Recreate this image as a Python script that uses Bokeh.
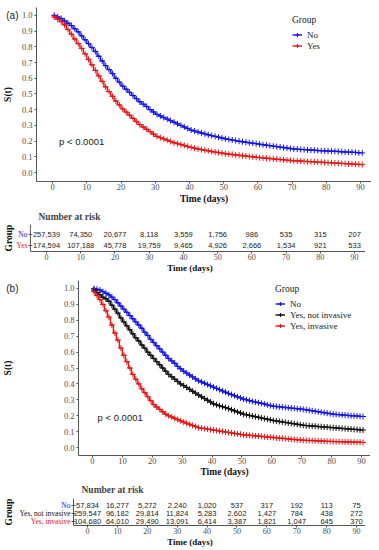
from bokeh.plotting import figure
from bokeh.layouts import column
from bokeh.models import (Legend, LegendItem, Label, FixedTicker, Range1d,
                          NumeralTickFormatter, LinearAxis, Span)
from bokeh.core.properties import value
from bokeh.embed import file_html
from bokeh.resources import INLINE

days = list(range(91))

a_no = [1.00, 0.99, 0.98, 0.965, 0.95, 0.935, 0.915, 0.895, 0.87, 0.845,
        0.82, 0.795, 0.77, 0.74, 0.71, 0.68, 0.655, 0.63, 0.60, 0.575,
        0.55, 0.53, 0.51, 0.49, 0.47, 0.45, 0.435, 0.42, 0.40, 0.385,
        0.37, 0.36, 0.35, 0.34, 0.33, 0.32, 0.31, 0.30, 0.29, 0.28,
        0.27, 0.264, 0.258, 0.252, 0.246, 0.24, 0.235, 0.23, 0.225, 0.22,
        0.215, 0.211, 0.207, 0.203, 0.199, 0.196, 0.193, 0.19, 0.187, 0.184,
        0.18, 0.177, 0.174, 0.171, 0.168, 0.165, 0.162, 0.159, 0.156, 0.153,
        0.15, 0.149, 0.147, 0.146, 0.144, 0.143, 0.142, 0.140, 0.139, 0.138,
        0.137, 0.136, 0.135, 0.134, 0.132, 0.131, 0.130, 0.129, 0.128, 0.126,
        0.125]
a_yes = [0.99, 0.975, 0.96, 0.94, 0.91, 0.88, 0.85, 0.82, 0.79, 0.755,
         0.72, 0.685, 0.65, 0.615, 0.58, 0.545, 0.515, 0.485, 0.455, 0.43,
         0.405, 0.385, 0.365, 0.345, 0.325, 0.305, 0.29, 0.275, 0.26, 0.245,
         0.23, 0.222, 0.214, 0.206, 0.198, 0.19, 0.184, 0.178, 0.172, 0.166,
         0.16, 0.155, 0.15, 0.146, 0.142, 0.138, 0.134, 0.13, 0.127, 0.124,
         0.12, 0.117, 0.115, 0.112, 0.11, 0.107, 0.105, 0.102, 0.1, 0.097,
         0.095, 0.093, 0.091, 0.089, 0.087, 0.085, 0.083, 0.081, 0.079, 0.077,
         0.075, 0.074, 0.073, 0.071, 0.07, 0.069, 0.068, 0.066, 0.065, 0.064,
         0.063, 0.062, 0.060, 0.059, 0.058, 0.057, 0.055, 0.054, 0.053, 0.052,
         0.05]
b_no = [1.0, 0.995, 0.99, 0.98, 0.97, 0.96, 0.945, 0.93, 0.91, 0.89,
        0.87, 0.85, 0.83, 0.81, 0.79, 0.77, 0.75, 0.725, 0.705, 0.68,
        0.66, 0.64, 0.62, 0.60, 0.58, 0.56, 0.545, 0.53, 0.51, 0.495,
        0.48, 0.468, 0.456, 0.444, 0.432, 0.42, 0.412, 0.404, 0.396, 0.388,
        0.38, 0.372, 0.364, 0.356, 0.348, 0.34, 0.333, 0.326, 0.319, 0.312,
        0.305, 0.300, 0.295, 0.290, 0.286, 0.282, 0.278, 0.274, 0.268, 0.264,
        0.26, 0.258, 0.256, 0.254, 0.252, 0.25, 0.248, 0.246, 0.244, 0.242,
        0.24, 0.237, 0.234, 0.231, 0.228, 0.225, 0.222, 0.219, 0.216, 0.213,
        0.21, 0.208, 0.207, 0.205, 0.204, 0.202, 0.200, 0.199, 0.198, 0.196,
        0.195]
b_not_inv = [0.99, 0.975, 0.96, 0.945, 0.935, 0.92, 0.895, 0.87, 0.845, 0.815,
             0.79, 0.765, 0.74, 0.715, 0.69, 0.67, 0.645, 0.625, 0.60, 0.58,
             0.56, 0.54, 0.52, 0.50, 0.48, 0.46, 0.445, 0.43, 0.415, 0.40,
             0.39, 0.378, 0.366, 0.354, 0.342, 0.33, 0.319, 0.308, 0.297, 0.286,
             0.275, 0.269, 0.263, 0.257, 0.251, 0.245, 0.238, 0.231, 0.224, 0.217,
             0.21, 0.206, 0.202, 0.198, 0.194, 0.19, 0.186, 0.182, 0.178, 0.174,
             0.17, 0.167, 0.164, 0.161, 0.158, 0.155, 0.152, 0.149, 0.146, 0.143,
             0.14, 0.138, 0.137, 0.135, 0.134, 0.132, 0.131, 0.129, 0.128, 0.126,
             0.125, 0.123, 0.122, 0.12, 0.119, 0.117, 0.116, 0.114, 0.113, 0.111,
             0.11]
b_inv = [0.98, 0.955, 0.93, 0.9, 0.86, 0.82, 0.77, 0.72, 0.675, 0.625,
         0.58, 0.54, 0.50, 0.46, 0.43, 0.40, 0.37, 0.345, 0.32, 0.295,
         0.27, 0.255, 0.24, 0.225, 0.21, 0.20, 0.192, 0.184, 0.176, 0.168,
         0.16, 0.153, 0.146, 0.139, 0.132, 0.125, 0.122, 0.119, 0.116, 0.113,
         0.11, 0.107, 0.104, 0.101, 0.098, 0.095, 0.092, 0.089, 0.086, 0.083,
         0.08, 0.078, 0.077, 0.075, 0.073, 0.072, 0.07, 0.068, 0.066, 0.065,
         0.063, 0.061, 0.059, 0.058, 0.056, 0.054, 0.052, 0.051, 0.049, 0.048,
         0.046, 0.045, 0.044, 0.044, 0.043, 0.042, 0.041, 0.04, 0.039, 0.039,
         0.038, 0.037, 0.037, 0.036, 0.035, 0.035, 0.034, 0.034, 0.033, 0.033,
         0.032]

x_ticks = [0, 10, 20, 30, 40, 50, 60, 70, 80, 90]
y_ticks = [0.0, 0.1, 0.2, 0.3, 0.4, 0.5, 0.6, 0.7, 0.8, 0.9, 1.0]

risk_times = [0, 10, 20, 30, 40, 50, 60, 70, 80, 90]
risk_a_no = [257539, 74350, 20677, 8118, 3559, 1756, 986, 535, 315, 207]
risk_a_yes = [174594, 107188, 45778, 19759, 9465, 4926, 2666, 1534, 921, 533]
risk_b_no = [57834, 16277, 5272, 2240, 1020, 537, 317, 192, 113, 75]
risk_b_not_inv = [259547, 96182, 29814, 11824, 5283, 2602, 1427, 784, 438, 272]
risk_b_inv = [104680, 64010, 29490, 13091, 6414, 3387, 1821, 1047, 645, 370]

groups_a = ["No", "Yes"]
groups_b = ["No", "Yes, not invasive", "Yes, invasive"]
BLUE = "#1515e6"
RED = "#e81515"
BLACK = "#111111"
AXIS = "#555555"
SERIF = "Liberation Serif"
SANS = "Liberation Sans"


def style_axis(ax):
    ax.axis_line_color = AXIS
    ax.major_tick_line_color = AXIS
    ax.major_tick_out = 2
    ax.major_tick_in = 0
    ax.minor_tick_line_color = None
    ax.major_label_text_color = "#4d4d4d"
    ax.major_label_text_font = SERIF
    ax.major_label_text_font_size = "8.5px"
    ax.axis_label_text_font = SERIF
    ax.axis_label_text_font_style = "bold"
    ax.axis_label_text_font_size = "9.5px"
    ax.axis_label_text_color = "#111111"


def style_common(p, xbounds, xlab_standoff):
    p.grid.visible = False
    p.outline_line_color = None
    p.frame_align = False
    style_axis(p.xaxis[0])
    style_axis(p.yaxis[0])
    p.xaxis.ticker = FixedTicker(ticks=x_ticks)
    p.xaxis.bounds = xbounds
    p.xaxis.major_label_standoff = 0
    p.xaxis.axis_label_standoff = xlab_standoff
    p.xaxis.axis_label = "Time (days)"


def km_fig(fw, fh, xr, yr, top, xlab_standoff, curves, names, colors, panel,
           panel_standoff, st_standoff, p_pos, leg_loc):
    p = figure(frame_width=fw, frame_height=fh, x_range=Range1d(*xr), y_range=Range1d(*yr),
               min_border_left=0, min_border_right=0, min_border_top=top,
               min_border_bottom=0, output_backend="svg", toolbar_location=None)
    style_common(p, xr, xlab_standoff)
    p.yaxis.ticker = FixedTicker(ticks=y_ticks)
    p.yaxis.formatter = NumeralTickFormatter(format="0.0")
    p.yaxis.major_label_standoff = 2
    # outer left axis carrying the panel tag and the S(t) title
    tag = LinearAxis(ticker=FixedTicker(ticks=[1.0]), major_label_overrides={1: panel})
    style_axis(tag)
    tag.axis_line_color = None
    tag.major_tick_line_color = None
    tag.major_tick_out = 0
    tag.major_label_text_font = SANS
    tag.major_label_text_font_size = "10px"
    tag.major_label_text_color = "#222222"
    tag.major_label_standoff = panel_standoff
    tag.axis_label = "S(t)"
    tag.axis_label_standoff = st_standoff
    p.add_layout(tag, "left")
    items = []
    for vals, name, col in zip(curves, names, colors):
        r1 = p.step(days, vals, mode="after", line_color=col, line_width=1.4)
        r2 = p.scatter([d + 0.5 for d in days], vals, marker="cross", size=6,
                       line_color=col, line_width=1)
        items.append(LegendItem(label=name, renderers=[r1, r2]))
    leg = Legend(items=items, location=leg_loc, title="Group", padding=0, margin=0,
                 spacing=0, label_height=11, glyph_height=11, glyph_width=10,
                 label_standoff=5, title_standoff=4, border_line_color=None,
                 background_fill_alpha=0, label_text_font=SERIF,
                 label_text_font_size="9px", title_text_font=SERIF,
                 title_text_font_style="normal", title_text_font_size="9.5px",
                 label_text_color="#222222", title_text_color="#222222")
    p.add_layout(leg)
    p.add_layout(Label(x=p_pos[0], y=p_pos[1], text="p < 0.0001", text_align="left",
                       text_baseline="middle", text_font=SANS, text_font_size="9.5px",
                       text_color="#222222"))
    return p


def risk_fig(fw, fh, xr, yr, xaxis_at, xbounds, title_off, title_standoff,
             rows, names, colors):
    p = figure(frame_width=fw, frame_height=fh, x_range=Range1d(*xr), y_range=Range1d(*yr),
               min_border_left=0, min_border_right=0, min_border_top=0,
               min_border_bottom=0, output_backend="svg", toolbar_location=None,
               title="Number at risk")
    style_common(p, xbounds, 0)
    p.xaxis.major_label_text_font_size = "8px"
    p.xaxis.axis_label_text_font_size = "9px"
    p.title.text_font = SERIF
    p.title.text_font_style = "bold"
    p.title.text_font_size = "9.5px"
    p.title.standoff = title_standoff
    p.title.offset = title_off
    n = len(rows)
    pos = list(range(n, 0, -1))
    p.yaxis.axis_line_color = None
    p.yaxis.major_tick_line_color = None
    p.yaxis.major_tick_out = 0
    p.yaxis.ticker = FixedTicker(ticks=[])
    p.yaxis.major_label_standoff = 0
    p.yaxis.axis_label = "Group"
    p.yaxis.axis_label_standoff = 1
    # the table's own left axis line, at the same place as the curve plot's
    p.add_layout(Span(location=xaxis_at, dimension="height", line_color=AXIS, line_width=1))
    p.scatter(x=[xaxis_at] * n, y=pos, marker="dash", size=4, line_color=AXIS)
    p.text(x=[xaxis_at] * n, y=pos, text=names, x_offset=-3, text_align="right",
           text_baseline="middle", text_font=value(SERIF), text_font_size=value("7.5px"),
           text_color=colors)
    for vals, yv in zip(rows, pos):
        p.text(x=risk_times, y=[yv] * len(risk_times), text=[f"{v:,}" for v in vals],
               text_align="center", text_baseline="middle", text_font=value(SANS),
               text_font_size=value("7.5px"), text_color="#222222")
    return p


pa = km_fig(335, 174, (-4.7, 93.2), (-0.057, 1.05), 7, 1,
            [a_no, a_yes], groups_a, [BLUE, RED], "(a)", 0, -10, (1.9, 0.20), (256, 130))
ra = risk_fig(351, 27, (-9.35, 93.2), (0.4545, 2.9), -4.7, (-4.7, 93.2), 24, 6,
              [risk_a_no, risk_a_yes], groups_a, [BLUE, RED])
pb = km_fig(292, 175, (-4.68, 93.0), (-0.05, 1.05), 5, 0,
            [b_no, b_not_inv, b_inv], groups_b, [BLUE, BLACK, RED], "(b)", 42, -10,
            (1.7, 0.19), (197, 124))
rb = risk_fig(351, 27, (-24.42, 93.0), (0.5, 3.875), -4.68, (-4.68, 93.0), 67, 7,
              [risk_b_no, risk_b_not_inv, risk_b_inv], groups_b, [BLUE, BLACK, RED])

layout = column(pa, ra, pb, rb, spacing=0)
open("out.html", "w").write(file_html(layout, INLINE))
